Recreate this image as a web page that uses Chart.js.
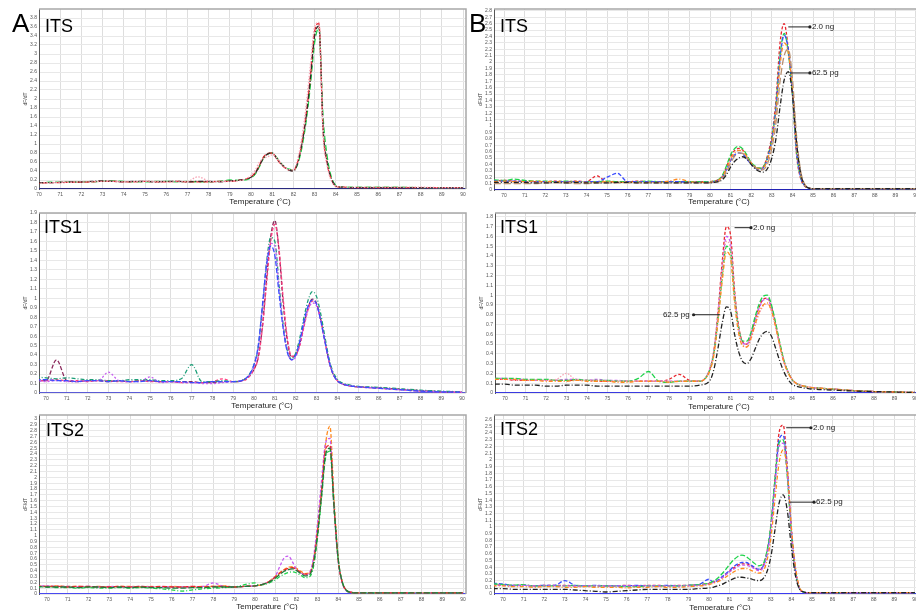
<!DOCTYPE html>
<html><head><meta charset="utf-8">
<script src="https://cdn.jsdelivr.net/npm/chart.js@4.4.1/dist/chart.umd.min.js"></script>
<style>
html,body{margin:0;padding:0;background:#fff;width:916px;height:610px;overflow:hidden;position:relative;font-family:"Liberation Sans",Arial,sans-serif}
canvas{position:absolute}
.lab{position:absolute;line-height:1;color:#000;white-space:nowrap;z-index:5}
.big{font-size:26px}
.ttl{font-size:18px}
.xt{font-size:8px;color:#222;width:80px;text-align:center}
</style></head><body>
<canvas id="aITS"></canvas><canvas id="aITS1"></canvas><canvas id="aITS2"></canvas>
<canvas id="bITS"></canvas><canvas id="bITS1"></canvas><canvas id="bITS2"></canvas>
<div class="lab big" style="left:12px;top:10px">A</div>
<div class="lab big" style="left:469px;top:10px">B</div>
<div class="lab ttl" style="left:45px;top:17px">ITS</div>
<div class="lab ttl" style="left:44px;top:218px">ITS1</div>
<div class="lab ttl" style="left:46px;top:421px">ITS2</div>
<div class="lab ttl" style="left:500px;top:17px">ITS</div>
<div class="lab ttl" style="left:500px;top:218px">ITS1</div>
<div class="lab ttl" style="left:500px;top:420px">ITS2</div>
<div class="lab xt" style="left:220px;top:198px">Temperature (°C)</div>
<div class="lab xt" style="left:222px;top:402px">Temperature (°C)</div>
<div class="lab xt" style="left:227px;top:603px">Temperature (°C)</div>
<div class="lab xt" style="left:679px;top:198px">Temperature (°C)</div>
<div class="lab xt" style="left:679px;top:403px">Temperature (°C)</div>
<div class="lab xt" style="left:680px;top:604px">Temperature (°C)</div>
<script>
// Temperature grid (°C)
const temps = [69.5,70,70.5,71,71.5,72,72.5,73,73.5,74,74.5,75,75.5,76,76.5,77,77.5,78,78.5,79,79.5,
 80,80.2,80.4,80.6,80.8,81,81.2,81.4,81.6,81.8,82,82.2,82.4,82.6,82.8,83,83.2,83.4,83.6,83.8,84,84.2,84.4,84.6,84.8,85,
 86,87,88,89,90];
const ntcTemps = [69.5, 90.5];
const ntcValues = [0, 0];

// tick labels
const xTicks = [70,71,72,73,74,75,76,77,78,79,80,81,82,83,84,85,86,87,88,89,90];
const yTicksFine = [0,0.1,0.2,0.3,0.4,0.5,0.6,0.7,0.8,0.9,1,1.1,1.2,1.3,1.4,1.5,1.6,1.7,1.8,1.9,2,2.1,2.2,2.3,2.4,2.5,2.6,2.7,2.8,2.9,3,3.1];
const yTicksCoarse = [0,0.2,0.4,0.6,0.8,1,1.2,1.4,1.6,1.8,2,2.2,2.4,2.6,2.8,3,3.2,3.4,3.6,3.8];

// ---- Panel A, ITS ----
const aITS_red = [0.13,0.13,0.14,0.14,0.15,0.15,0.16,0.17,0.17,0.16,0.16,0.17,0.16,0.16,0.17,0.16,0.16,0.16,0.17,0.17,0.2,
 0.27,0.36,0.53,0.72,0.79,0.8,0.68,0.56,0.47,0.42,0.41,0.6,1.02,1.65,2.5,3.5,3.68,1.3,0.55,0.2,0.06,0.04,0.04,0.03,0.03,0.03,
 0.03,0.03,0.03,0.03,0.03];
const aITS_green = [0.14,0.14,0.15,0.15,0.15,0.16,0.16,0.17,0.18,0.17,0.16,0.16,0.17,0.17,0.16,0.17,0.16,0.16,0.17,0.2,0.19,
 0.25,0.33,0.5,0.69,0.78,0.8,0.71,0.58,0.49,0.44,0.42,0.55,0.92,1.5,2.3,3.25,3.58,1.6,0.7,0.25,0.08,0.05,0.04,0.04,0.04,0.04,
 0.04,0.04,0.03,0.03,0.03];
const aITS_pink = [0.12,0.13,0.14,0.15,0.15,0.16,0.16,0.17,0.17,0.16,0.16,0.17,0.17,0.16,0.16,0.17,0.27,0.18,0.16,0.17,0.19,
 0.3,0.42,0.6,0.68,0.72,0.76,0.7,0.58,0.48,0.43,0.43,0.66,1.15,1.85,2.75,3.6,3.7,1.2,0.5,0.17,0.06,0.05,0.04,0.04,0.04,0.04,
 0.04,0.04,0.04,0.03,0.03];
const aITS_dark = [0.13,0.14,0.14,0.15,0.16,0.16,0.17,0.18,0.17,0.16,0.17,0.17,0.16,0.17,0.17,0.16,0.17,0.17,0.16,0.18,0.2,
 0.26,0.35,0.52,0.7,0.78,0.8,0.69,0.57,0.48,0.42,0.4,0.58,1.0,1.6,2.45,3.4,3.62,1.35,0.58,0.21,0.07,0.04,0.04,0.03,0.03,0.03,
 0.03,0.03,0.03,0.03,0.03];

// ---- Panel A, ITS1 ----
const aITS1_maroon = [0.13,0.13,0.35,0.13,0.12,0.13,0.13,0.12,0.13,0.12,0.13,0.13,0.12,0.12,0.12,0.12,0.11,0.11,0.12,0.12,0.14,
 0.25,0.38,0.7,1.2,1.65,1.82,1.5,0.95,0.55,0.38,0.4,0.52,0.72,0.9,0.99,0.95,0.78,0.56,0.34,0.2,0.13,0.1,0.085,0.075,0.07,0.065,
 0.055,0.04,0.025,0.015,0.01];
const aITS1_pink = [0.14,0.13,0.14,0.13,0.13,0.12,0.13,0.13,0.12,0.12,0.13,0.12,0.12,0.12,0.11,0.11,0.11,0.12,0.15,0.12,0.13,
 0.25,0.37,0.68,1.15,1.6,1.78,1.52,1.0,0.58,0.39,0.4,0.5,0.7,0.88,0.97,0.94,0.78,0.56,0.34,0.2,0.13,0.1,0.085,0.075,0.07,0.065,
 0.05,0.035,0.02,0.012,0.008];
const aITS1_teal = [0.17,0.16,0.15,0.16,0.15,0.14,0.14,0.13,0.13,0.14,0.14,0.14,0.13,0.13,0.15,0.3,0.12,0.12,0.13,0.12,0.14,
 0.3,0.48,0.9,1.38,1.64,1.6,1.15,0.72,0.45,0.36,0.42,0.58,0.8,0.98,1.07,1.02,0.84,0.6,0.37,0.22,0.15,0.11,0.095,0.085,0.075,0.07,
 0.06,0.045,0.03,0.02,0.012];
const aITS1_blue = [0.14,0.14,0.13,0.13,0.12,0.13,0.13,0.12,0.13,0.12,0.12,0.13,0.12,0.12,0.12,0.11,0.11,0.12,0.12,0.12,0.14,
 0.3,0.5,0.92,1.35,1.55,1.45,1.05,0.68,0.43,0.35,0.4,0.55,0.76,0.92,0.98,0.94,0.77,0.55,0.34,0.2,0.13,0.1,0.085,0.075,0.07,0.065,
 0.05,0.035,0.02,0.012,0.008];
const aITS1_purple = [0.13,0.12,0.13,0.12,0.12,0.13,0.13,0.22,0.13,0.12,0.12,0.17,0.11,0.12,0.11,0.11,0.1,0.1,0.11,0.12,0.14,
 0.28,0.46,0.88,1.35,1.58,1.55,1.12,0.7,0.44,0.35,0.38,0.52,0.72,0.88,0.95,0.92,0.76,0.55,0.34,0.2,0.13,0.1,0.085,0.075,0.07,0.065,
 0.05,0.035,0.02,0.012,0.008];

// ---- Panel A, ITS2 ----
const aITS2_orange = [0.13,0.13,0.14,0.13,0.13,0.12,0.13,0.12,0.13,0.13,0.12,0.13,0.12,0.13,0.12,0.12,0.13,0.13,0.14,0.12,0.13,
 0.14,0.15,0.17,0.2,0.25,0.31,0.37,0.42,0.46,0.47,0.44,0.39,0.35,0.36,0.55,1.1,1.8,2.6,2.88,1.6,0.6,0.2,0.06,0.03,0.02,0.02,
 0.02,0.02,0.02,0.02,0.02];
const aITS2_purple = [0.14,0.14,0.13,0.13,0.12,0.13,0.12,0.13,0.12,0.12,0.13,0.12,0.12,0.12,0.12,0.12,0.13,0.19,0.13,0.12,0.13,
 0.14,0.15,0.17,0.2,0.24,0.32,0.48,0.62,0.65,0.55,0.42,0.36,0.33,0.36,0.6,1.2,1.95,2.6,2.67,1.45,0.55,0.18,0.05,0.03,0.02,0.02,
 0.02,0.02,0.02,0.02,0.02];
const aITS2_red = [0.14,0.13,0.13,0.12,0.13,0.13,0.12,0.12,0.13,0.12,0.13,0.12,0.13,0.12,0.12,0.13,0.12,0.13,0.13,0.12,0.13,
 0.14,0.15,0.17,0.2,0.24,0.3,0.36,0.41,0.44,0.45,0.42,0.37,0.34,0.35,0.52,1.05,1.75,2.5,2.55,1.5,0.58,0.19,0.06,0.03,0.02,0.02,
 0.02,0.02,0.02,0.02,0.02];
const aITS2_green = [0.12,0.12,0.11,0.11,0.1,0.11,0.1,0.1,0.11,0.1,0.11,0.1,0.09,0.07,0.05,0.07,0.09,0.1,0.11,0.12,0.16,
 0.19,0.15,0.16,0.18,0.21,0.25,0.3,0.34,0.37,0.38,0.36,0.32,0.28,0.29,0.45,0.95,1.65,2.35,2.45,1.45,0.58,0.2,0.06,0.03,0.02,0.02,
 0.02,0.02,0.02,0.02,0.02];
const aITS2_dkgreen = [0.13,0.12,0.12,0.12,0.11,0.12,0.12,0.11,0.12,0.11,0.12,0.11,0.11,0.1,0.1,0.11,0.11,0.12,0.12,0.12,0.13,
 0.14,0.15,0.17,0.19,0.23,0.28,0.34,0.39,0.42,0.43,0.4,0.35,0.31,0.32,0.5,1.0,1.7,2.4,2.5,1.5,0.6,0.2,0.06,0.03,0.02,0.02,
 0.02,0.02,0.02,0.02,0.02];

// ---- Panel B, ITS ----
const bITS_red = [0.14,0.15,0.14,0.14,0.13,0.13,0.14,0.13,0.14,0.13,0.22,0.13,0.13,0.13,0.14,0.13,0.13,0.13,0.13,0.13,0.13,
 0.13,0.14,0.16,0.22,0.36,0.52,0.62,0.65,0.62,0.52,0.42,0.36,0.34,0.37,0.55,0.85,1.4,2.3,2.6,2.2,1.5,0.55,0.18,0.06,0.03,0.02,
 0.02,0.02,0.02,0.02,0.02];
const bITS_green = [0.16,0.15,0.17,0.15,0.14,0.14,0.13,0.14,0.13,0.13,0.13,0.14,0.13,0.13,0.13,0.14,0.13,0.13,0.13,0.13,0.13,
 0.13,0.14,0.16,0.23,0.38,0.55,0.65,0.68,0.64,0.54,0.43,0.37,0.34,0.37,0.52,0.8,1.3,2.1,2.45,2.15,1.5,0.6,0.2,0.07,0.03,0.02,
 0.02,0.02,0.02,0.02,0.02];
const bITS_blue = [0.14,0.14,0.14,0.13,0.13,0.13,0.13,0.13,0.13,0.13,0.13,0.2,0.26,0.13,0.13,0.13,0.13,0.13,0.13,0.12,0.12,
 0.12,0.13,0.15,0.2,0.32,0.46,0.55,0.58,0.56,0.48,0.4,0.34,0.32,0.35,0.5,0.78,1.28,2.05,2.42,2.2,1.55,0.62,0.2,0.07,0.03,0.02,
 0.02,0.02,0.02,0.02,0.02];
const bITS_orange = [0.13,0.14,0.13,0.13,0.14,0.13,0.13,0.12,0.13,0.12,0.12,0.13,0.12,0.12,0.12,0.12,0.12,0.14,0.17,0.13,0.12,
 0.12,0.13,0.15,0.21,0.33,0.48,0.58,0.62,0.6,0.52,0.42,0.36,0.33,0.35,0.48,0.75,1.2,1.95,2.3,2.15,1.6,0.7,0.24,0.08,0.03,0.02,
 0.02,0.02,0.02,0.02,0.02];
const bITS_tan = [0.1,0.1,0.1,0.1,0.1,0.11,0.11,0.11,0.1,0.1,0.11,0.11,0.11,0.11,0.11,0.11,0.11,0.11,0.11,0.11,0.11,
 0.11,0.12,0.13,0.18,0.28,0.42,0.53,0.58,0.57,0.5,0.41,0.35,0.31,0.32,0.42,0.65,1.05,1.7,2.1,2.2,1.75,0.85,0.3,0.09,0.04,0.02,
 0.02,0.02,0.02,0.02,0.02];
const bITS_black = [0.12,0.12,0.12,0.12,0.11,0.11,0.12,0.11,0.12,0.11,0.11,0.11,0.12,0.12,0.11,0.11,0.11,0.11,0.11,0.11,0.11,
 0.11,0.12,0.13,0.16,0.24,0.36,0.45,0.5,0.52,0.48,0.4,0.33,0.29,0.28,0.34,0.5,0.8,1.3,1.72,1.85,1.5,0.75,0.26,0.08,0.03,0.02,
 0.02,0.02,0.02,0.02,0.02];

// ---- Panel B, ITS1 ----
const bITS1_red = [0.14,0.14,0.13,0.13,0.13,0.13,0.13,0.13,0.13,0.13,0.12,0.12,0.12,0.12,0.12,0.12,0.12,0.14,0.19,0.13,0.12,
 0.25,0.45,0.85,1.35,1.7,1.62,1.05,0.68,0.52,0.5,0.6,0.75,0.88,0.96,0.97,0.88,0.7,0.5,0.33,0.22,0.14,0.1,0.08,0.07,0.06,0.055,
 0.04,0.025,0.015,0.01,0.005];
const bITS1_purple = [0.15,0.15,0.14,0.14,0.13,0.13,0.13,0.14,0.14,0.13,0.14,0.13,0.13,0.12,0.12,0.12,0.12,0.12,0.12,0.12,0.12,
 0.25,0.44,0.82,1.28,1.6,1.52,1.0,0.66,0.51,0.5,0.59,0.74,0.87,0.95,0.96,0.87,0.7,0.5,0.33,0.22,0.14,0.1,0.08,0.07,0.06,0.055,
 0.04,0.025,0.015,0.01,0.005];
const bITS1_green = [0.15,0.15,0.15,0.14,0.14,0.14,0.13,0.13,0.14,0.13,0.13,0.13,0.12,0.12,0.15,0.22,0.12,0.11,0.12,0.12,0.12,
 0.24,0.42,0.78,1.2,1.5,1.45,0.98,0.66,0.53,0.53,0.62,0.78,0.91,0.99,1.0,0.9,0.72,0.52,0.34,0.22,0.14,0.1,0.08,0.07,0.06,0.055,
 0.04,0.025,0.015,0.01,0.005];
const bITS1_orange = [0.14,0.14,0.14,0.13,0.13,0.12,0.12,0.12,0.13,0.12,0.12,0.12,0.11,0.11,0.12,0.12,0.12,0.11,0.12,0.12,0.12,
 0.23,0.4,0.75,1.15,1.44,1.38,0.92,0.61,0.48,0.47,0.56,0.7,0.83,0.9,0.92,0.84,0.68,0.49,0.32,0.21,0.14,0.1,0.08,0.07,0.06,0.055,
 0.04,0.025,0.015,0.01,0.005];
const bITS1_pink = [0.14,0.14,0.13,0.13,0.13,0.13,0.14,0.2,0.13,0.13,0.13,0.12,0.12,0.12,0.12,0.12,0.12,0.12,0.12,0.12,0.12,
 0.24,0.42,0.8,1.25,1.55,1.48,0.98,0.64,0.49,0.47,0.55,0.69,0.81,0.89,0.91,0.83,0.67,0.48,0.32,0.21,0.14,0.1,0.08,0.07,0.06,0.055,
 0.04,0.025,0.015,0.01,0.005];
const bITS1_black = [0.09,0.09,0.08,0.08,0.08,0.07,0.07,0.08,0.08,0.08,0.07,0.07,0.07,0.07,0.07,0.07,0.07,0.07,0.07,0.07,0.08,
 0.13,0.25,0.47,0.72,0.88,0.84,0.6,0.42,0.32,0.3,0.35,0.45,0.55,0.61,0.63,0.58,0.46,0.33,0.22,0.14,0.09,0.07,0.06,0.05,0.045,0.04,
 0.03,0.02,0.015,0.01,0.005];

// ---- Panel B, ITS2 ----
const bITS2_red = [0.14,0.13,0.13,0.13,0.12,0.13,0.13,0.13,0.12,0.12,0.12,0.12,0.12,0.13,0.12,0.13,0.13,0.12,0.13,0.13,0.14,
 0.16,0.18,0.2,0.24,0.29,0.34,0.39,0.43,0.45,0.45,0.43,0.39,0.36,0.4,0.6,1.0,1.7,2.4,2.52,1.9,0.95,0.35,0.08,0.03,0.02,0.02,
 0.02,0.02,0.02,0.02,0.02];
const bITS2_blue = [0.16,0.15,0.13,0.13,0.12,0.13,0.13,0.2,0.13,0.12,0.13,0.12,0.12,0.12,0.13,0.12,0.12,0.13,0.12,0.13,0.14,
 0.22,0.18,0.2,0.25,0.3,0.35,0.41,0.45,0.47,0.47,0.44,0.4,0.37,0.4,0.58,0.98,1.65,2.3,2.37,1.85,0.95,0.36,0.08,0.03,0.02,0.02,
 0.02,0.02,0.02,0.02,0.02];
const bITS2_green = [0.15,0.14,0.13,0.14,0.12,0.12,0.12,0.12,0.13,0.12,0.12,0.12,0.12,0.11,0.11,0.12,0.12,0.12,0.12,0.13,0.14,
 0.16,0.19,0.23,0.29,0.36,0.44,0.51,0.56,0.58,0.56,0.51,0.46,0.42,0.44,0.62,1.02,1.7,2.25,2.3,1.75,0.9,0.34,0.08,0.03,0.02,0.02,
 0.02,0.02,0.02,0.02,0.02];
const bITS2_purple = [0.13,0.13,0.12,0.13,0.12,0.12,0.12,0.12,0.12,0.12,0.12,0.12,0.12,0.12,0.12,0.12,0.12,0.12,0.12,0.12,0.13,
 0.15,0.17,0.19,0.23,0.28,0.33,0.37,0.41,0.43,0.43,0.41,0.38,0.35,0.38,0.56,0.95,1.6,2.2,2.25,1.8,0.92,0.35,0.08,0.03,0.02,0.02,
 0.02,0.02,0.02,0.02,0.02];
const bITS2_orange = [0.12,0.12,0.11,0.11,0.1,0.11,0.11,0.1,0.1,0.11,0.1,0.1,0.1,0.09,0.1,0.1,0.11,0.1,0.1,0.11,0.12,
 0.14,0.16,0.18,0.21,0.25,0.29,0.33,0.36,0.38,0.38,0.36,0.33,0.31,0.33,0.48,0.82,1.4,1.95,2.15,1.85,1.0,0.4,0.1,0.03,0.02,0.02,
 0.02,0.02,0.02,0.02,0.02];
const bITS2_black = [0.08,0.08,0.07,0.07,0.07,0.07,0.07,0.07,0.06,0.05,0.04,0.03,0.04,0.05,0.06,0.07,0.07,0.07,0.07,0.07,0.08,
 0.09,0.1,0.12,0.14,0.17,0.2,0.23,0.25,0.25,0.24,0.23,0.21,0.2,0.22,0.32,0.55,0.95,1.35,1.48,1.25,0.7,0.27,0.07,0.03,0.02,0.02,
 0.02,0.02,0.02,0.02,0.02];

// annotation labels (data units)
const bITS_notes = [{text:'2.0 ng', from:83.8, to:84.85, at:2.55},{text:'62.5 pg', from:83.9, to:84.85, at:1.83}];
const bITS1_notes = [{text:'2.0 ng', from:81.2, to:82.0, at:1.69},{text:'62.5 pg', from:80.5, to:79.2, at:0.8}];
const bITS2_notes = [{text:'2.0 ng', from:83.75, to:84.95, at:2.48},{text:'62.5 pg', from:83.9, to:85.1, at:1.37}];

const F = '"Liberation Sans", Arial, sans-serif';
const C = {red:'#e8262e', green:'#1ed34a', pink:'#f6a3b3', dark:'#3a2a2a', maroon:'#8b2a5c', rose:'#ff3d7f',
  teal:'#1b9e77', blue:'#3a4cff', purple:'#c65bf0', orange:'#ff8a1e', dkgreen:'#1f7a3e', tan:'#b89070', black:'#222'};

const panels = [
 {id:'aITS', plot:[39,9,466,189], xMin:70, xMax:90.14, yMax:4, yTicks:yTicksCoarse, ntc:'#2a2a80', notes:[],
  series:[['pink',aITS_pink,[1.5,1.5]],['dark',aITS_dark,[5,2,1,2]],['red',aITS_red,[5,2]],['green',aITS_green,[6,3]]]},
 {id:'aITS1', plot:[39,213,466,393], xMin:69.66, xMax:90.19, yMax:1.9, yTicks:yTicksFine, ntc:'#5b5bd6', notes:[],
  series:[['blue',aITS1_blue,[5,2]],['purple',aITS1_purple,[2,2]],['teal',aITS1_teal,[4,2,1,2]],['rose',aITS1_pink,[3,2]],['maroon',aITS1_maroon,[4,2]]]},
 {id:'aITS2', plot:[39,415,466,594], xMin:69.62, xMax:90.14, yMax:3.07, yTicks:yTicksFine, ntc:'#4a4af0', notes:[],
  series:[['dkgreen',aITS2_dkgreen,[6,2]],['red',aITS2_red,[5,2]],['green',aITS2_green,[4,2,1,2]],['purple',aITS2_purple,[3,2]],['orange',aITS2_orange,[4,2]]]},
 {id:'bITS', plot:[494,9,917,190], xMin:69.51, xMax:90.05, yMax:2.83, yTicks:yTicksFine, ntc:'#2323b5', notes:bITS_notes,
  series:[['black',bITS_black,[5,2,1,2]],['tan',bITS_tan,[7,3]],['orange',bITS_orange,[4,2,1,2]],['blue',bITS_blue,[4,2]],['green',bITS_green,[5,2]],['red',bITS_red,[3,2]]]},
 {id:'bITS1', plot:[495,213,917,393], xMin:69.51, xMax:90.1, yMax:1.84, yTicks:yTicksFine, ntc:'#3a3ae0', notes:bITS1_notes,
  series:[['black',bITS1_black,[5,2,1,2]],['orange',bITS1_orange,[4,2,1,2]],['pink',bITS1_pink,[1.5,1.5]],['green',bITS1_green,[5,2]],['purple',bITS1_purple,[3,2]],['red',bITS1_red,[3,2]]]},
 {id:'bITS2', plot:[494,415,917,594], xMin:69.56, xMax:90.1, yMax:2.67, yTicks:yTicksFine, ntc:'#3c3cf0', notes:bITS2_notes,
  series:[['black',bITS2_black,[5,2,1,2]],['orange',bITS2_orange,[4,2,1,2]],['purple',bITS2_purple,[3,2]],['green',bITS2_green,[5,2]],['blue',bITS2_blue,[4,2]],['red',bITS2_red,[3,2]]]}
];

Chart.register({
  id:'frameNotes',
  afterDatasetsDraw(chart, args, opts){
    const {ctx, chartArea:a, scales} = chart;
    ctx.save();
    ctx.strokeStyle = '#a8a8a8'; ctx.lineWidth = 1.5;
    ctx.beginPath(); ctx.moveTo(a.left, a.top); ctx.lineTo(a.right, a.top); ctx.lineTo(a.right, a.bottom); ctx.stroke();
    const items = (opts && opts.items) || [];
    ctx.strokeStyle = '#222'; ctx.fillStyle = '#222'; ctx.lineWidth = 1;
    ctx.font = '8px ' + F; ctx.textBaseline = 'middle';
    items.forEach(n => {
      const x0 = scales.x.getPixelForValue(n.from), x1 = scales.x.getPixelForValue(n.to), y = scales.y.getPixelForValue(n.at);
      ctx.beginPath(); ctx.moveTo(x0, y); ctx.lineTo(x1, y); ctx.stroke();
      ctx.beginPath(); ctx.arc(x1, y, 1.6, 0, Math.PI*2); ctx.fill();
      if (x1 > x0) { ctx.textAlign = 'left'; ctx.fillText(n.text, x1 + 2, y); }
      else { ctx.textAlign = 'right'; ctx.fillText(n.text, x1 - 4, y); }
    });
    ctx.restore();
  }
});

const YW = 16, XH = 18, PT = 5, PR = 5;
panels.forEach(p => {
  const cv = document.getElementById(p.id);
  const [L,T,R,B] = p.plot;
  const left = L - YW, top = T - PT, w = R + PR - left, h = B + XH - top;
  cv.style.left = left + 'px'; cv.style.top = top + 'px';
  cv.width = w; cv.height = h; cv.style.width = w + 'px'; cv.style.height = h + 'px';
  const ds = p.series.map(s => ({
    label: s[0], data: temps.map((t,i) => ({x:t, y:s[1][i]})),
    borderColor: C[s[0]], borderDash: s[2], borderWidth: 1.3, pointRadius: 0,
    cubicInterpolationMode: 'monotone', fill: false
  }));
  ds.push({label:'NTC', data: ntcTemps.map((t,i)=>({x:t,y:ntcValues[i]})), borderColor:p.ntc, borderWidth:2.2, pointRadius:0});
  new Chart(cv, {
    type:'line',
    data:{datasets:ds},
    options:{
      responsive:false, animation:false, devicePixelRatio:1,
      layout:{padding:{top:PT, right:PR, left:0, bottom:0}},
      plugins:{legend:{display:false}, tooltip:{enabled:false}, frameNotes:{items:p.notes}},
      scales:{
        x:{type:'linear', min:p.xMin, max:p.xMax,
          afterFit: s => { s.height = XH; },
          afterBuildTicks: s => { s.ticks = xTicks.filter(v => v >= p.xMin && v <= p.xMax).map(v => ({value:v})); },
          ticks:{autoSkip:false, maxRotation:0, padding:3, font:{size:5, family:F}, color:'#555', callback: v => String(v)},
          grid:{color:'#dedede', drawTicks:false},
          border:{display:false},
          title:{display:false}
        },
        y:{min:0, max:p.yMax,
          afterFit: s => { s.width = YW; },
          afterBuildTicks: s => { s.ticks = p.yTicks.filter(v => v <= p.yMax + 1e-9).map(v => ({value:v})); },
          ticks:{autoSkip:false, padding:2, font:{size:5, family:F}, color:'#555', callback: v => String(v)},
          grid:{color:'#e8e8e8', drawTicks:false},
          border:{display:true, color:'#555', width:1},
          title:{display:true, text:'dF/dT', font:{size:5, family:F}, color:'#444', padding:0}
        }
      }
    }
  });
});
</script>
</body></html>
